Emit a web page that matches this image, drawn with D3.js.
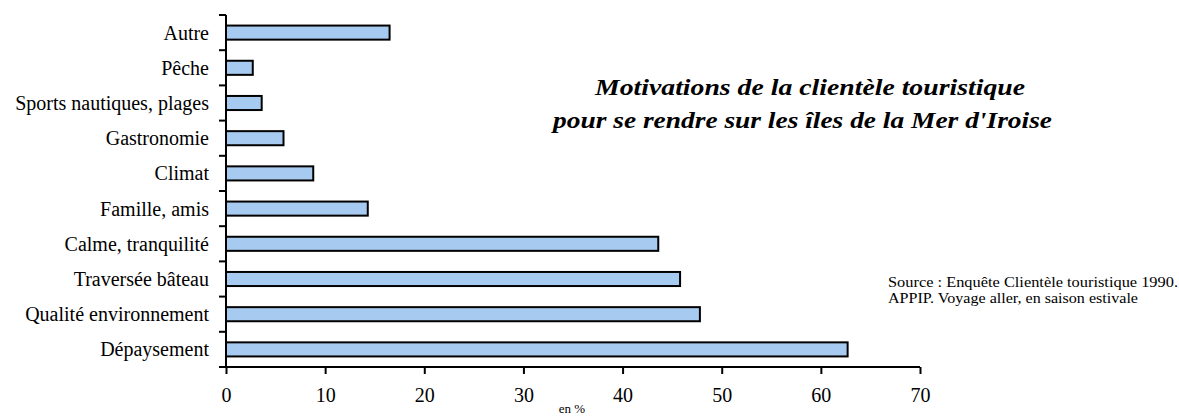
<!DOCTYPE html>
<html><head><meta charset="utf-8">
<script src="https://cdn.jsdelivr.net/npm/d3@7"></script>
<style>body{margin:0;background:#fff}svg{display:block}text{font-family:"Liberation Serif","Times New Roman",serif;fill:#000}</style>
</head><body><svg id="c" width="1179" height="416"></svg>
<script>
const categories = ["Autre","Pêche","Sports nautiques, plages","Gastronomie","Climat","Famille, amis","Calme, tranquilité","Traversée bâteau","Qualité environnement","Dépaysement"];
const values = [16.5,2.7,3.6,5.8,8.8,14.3,43.6,45.8,47.8,62.7];
const xTicks = [0,10,20,30,40,50,60,70];
const titleLines = ["Motivations de la clientèle touristique","pour se rendre sur les îles de la Mer d'Iroise"];
const sourceLines = ["Source : Enquête Clientèle touristique 1990.","APPIP. Voyage aller, en saison estivale"];

const svg = d3.select("#c");
const x = d3.scaleLinear().domain([0,70]).range([226,920]);
const y = d3.scaleBand().domain(categories).range([15,367]).paddingInner(0.6).paddingOuter(0.3);
const yb = d3.scaleBand().domain(categories).range([15,367]);

svg.selectAll("rect.bar").data(categories).join("rect").attr("class","bar")
  .attr("x",x(0)).attr("y",d=>y(d)).attr("height",y.bandwidth())
  .attr("width",(d,i)=>x(values[i])-x(0))
  .attr("fill","#A6CAF0").attr("stroke","#000").attr("stroke-width",2);

// y axis
const ya = svg.append("g");
ya.append("line").attr("x1",x(0)).attr("x2",x(0)).attr("y1",15).attr("y2",367).attr("stroke","#000").attr("stroke-width",2);
const yTickPos = categories.map(c=>yb(c)).concat([367]);
ya.selectAll("line.t").data(yTickPos).join("line").attr("class","t")
  .attr("x1",x(0)-7).attr("x2",x(0)).attr("y1",d=>d).attr("y2",d=>d).attr("stroke","#000").attr("stroke-width",2);
ya.selectAll("text").data(categories).join("text")
  .attr("x",209).attr("y",d=>yb(d)+yb.bandwidth()/2).attr("dy","0.35em")
  .attr("text-anchor","end").attr("font-size",20).text(d=>d);

// x axis
const xa = svg.append("g").attr("transform","translate(0,367)")
  .call(d3.axisBottom(x).tickValues(xTicks).tickSize(7).tickPadding(14).tickFormat(d3.format("d")));
xa.select(".domain").attr("stroke","#000").attr("stroke-width",2).attr("d",`M${x(0)},0H${x(70)}`);
xa.selectAll(".tick line").attr("stroke","#000").attr("stroke-width",2);
xa.selectAll(".tick text").attr("font-size",20).attr("fill","#000");

svg.append("text").attr("x",572).attr("y",413).attr("text-anchor","middle").attr("font-size",13).text("en %");

const titleX = [810,802.5], titleW = [430,499];
svg.append("g").selectAll("text").data(titleLines).join("text")
  .attr("x",(d,i)=>titleX[i]).attr("y",(d,i)=>95+i*33).attr("text-anchor","middle")
  .attr("font-family","'Times New Roman','Liberation Serif',serif")
  .attr("font-size",23).attr("font-weight","bold").attr("font-style","italic")
  .attr("textLength",(d,i)=>titleW[i]).attr("lengthAdjust","spacingAndGlyphs").text(d=>d);

const srcW = [290,250];
svg.append("g").selectAll("text").data(sourceLines).join("text")
  .attr("x",888).attr("y",(d,i)=>287+i*15.5).attr("font-size",15)
  .attr("textLength",(d,i)=>srcW[i]).attr("lengthAdjust","spacingAndGlyphs").text(d=>d);
</script></body></html>
